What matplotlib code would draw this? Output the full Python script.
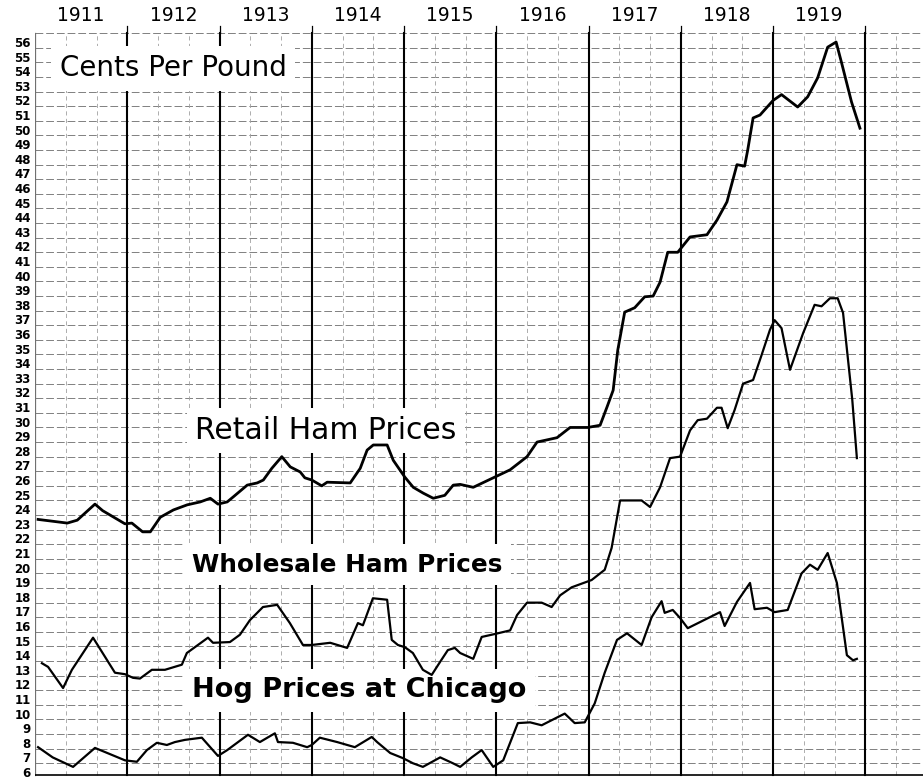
import matplotlib.pyplot as plt

# months counted from Jan 1911, values in cents per pound
retail_month = [0.4, 4.2, 5.5, 7.8, 8.8, 11.7, 12.6, 14.0, 15.0, 16.3, 18.0, 19.8, 21.5, 22.8,
                23.8, 25.0, 25.8, 27.6, 28.9, 29.7, 30.8, 32.1, 33.2, 34.5, 35.1, 36.0, 37.3,
                38.0, 41.0, 42.3, 43.2, 44.0, 45.8, 46.6, 48.1, 49.2, 50.5, 51.8, 53.3, 54.4,
                55.3, 57.0, 59.8, 61.8, 64.0, 65.3, 67.9, 69.6, 71.9, 73.5, 74.4, 75.2, 75.8,
                76.7, 78.0, 79.3, 80.4, 81.3, 82.3, 83.6, 85.2, 87.4, 88.7, 90.0, 91.3, 92.3,
                92.7, 93.4, 94.3, 96.0, 97.1, 99.2, 100.5, 101.8, 103.1, 104.2, 104.9, 106.2, 107.3]
retail_price = [23.3, 23.05, 23.25, 24.35, 23.9, 23.0, 23.05, 22.45, 22.45, 23.45, 23.95, 24.3,
                24.5, 24.75, 24.35, 24.5, 24.85, 25.65, 25.8, 26.0, 26.8, 27.6, 26.9, 26.55,
                26.15, 26.0, 25.6, 25.85, 25.8, 26.8, 28.05, 28.4, 28.4, 27.35, 26.2, 25.5,
                25.1, 24.75, 24.95, 25.65, 25.7, 25.5, 26.2, 26.7, 27.6, 28.6, 28.9, 29.6,
                29.6, 29.75, 31.0, 32.15, 34.9, 37.5, 37.8, 38.55, 38.6, 39.55, 41.6, 41.6,
                42.65, 42.8, 43.8, 45.05, 47.6, 47.5, 48.6, 50.8, 51.0, 52.0, 52.4, 51.55,
                52.25, 53.55, 55.65, 56.0, 54.6, 51.9, 50.1]

wholesale_month = [0.9, 1.7, 3.65, 4.8, 7.55, 10.4, 11.7, 12.75, 13.65, 15.2, 16.9, 19.1, 19.75,
                   22.5, 23.15, 25.35, 26.65, 27.95, 29.65, 31.5, 33.15, 34.85, 36.0, 38.4,
                   40.6, 42.0, 42.65, 43.95, 45.8, 46.4, 47.2, 48.1, 49.15, 50.45, 51.6, 52.7,
                   53.7, 54.6, 55.3, 57.0, 58.1, 59.8, 61.8, 62.7, 64.0, 65.9, 67.2, 68.3, 69.8,
                   72.4, 74.1, 75.0, 76.1, 78.9, 80.0, 81.3, 82.6, 83.9, 85.2, 86.2, 87.4, 88.7,
                   89.3, 90.1, 91.0, 92.1, 93.4, 94.5, 95.6, 96.2, 97.1, 98.2, 99.9, 101.4,
                   102.3, 103.4, 104.4, 105.1, 106.3, 106.9]
wholesale_price = [13.45, 13.2, 11.75, 13.0, 15.2, 12.8, 12.7, 12.45, 12.4, 13.0, 13.0, 13.35,
                   14.15, 15.2, 14.85, 14.9, 15.4, 16.4, 17.3, 17.45, 16.2, 14.7, 14.7, 14.85,
                   14.5, 16.2, 16.05, 17.9, 17.8, 15.05, 14.7, 14.55, 14.15, 13.0, 12.65, 13.55,
                   14.35, 14.5, 14.15, 13.75, 15.25, 15.45, 15.7, 16.75, 17.6, 17.6, 17.3, 18.1,
                   18.65, 19.15, 19.85, 21.35, 24.6, 24.6, 24.15, 25.5, 27.5, 27.6, 29.4, 30.1,
                   30.2, 30.95, 30.95, 29.55, 30.8, 32.6, 32.85, 34.55, 36.3, 36.95, 36.4, 33.55,
                   36.05, 38.0, 37.9, 38.45, 38.45, 37.45, 31.5, 27.5]

hog_month = [0.4, 2.3, 4.95, 7.8, 11.7, 13.25, 14.55, 15.85, 17.15, 18.2, 19.5, 21.7, 23.8, 25.0,
             27.7, 29.25, 31.2, 31.6, 33.55, 35.4, 36.0, 37.05, 39.3, 41.6, 43.8, 44.5, 46.2,
             47.85, 49.15, 50.45, 52.7, 54.35, 55.3, 56.8, 58.1, 59.6, 60.9, 62.8, 64.4, 65.9,
             68.9, 70.2, 71.5, 72.8, 74.1, 75.7, 77.0, 78.9, 80.2, 81.5, 81.9, 82.95, 83.9,
             84.9, 89.1, 89.7, 91.3, 93.0, 93.6, 95.2, 96.2, 97.9, 99.7, 100.8, 101.8, 103.1,
             104.3, 105.6, 106.4, 106.9]
hog_price = [7.7, 7.0, 6.35, 7.65, 6.8, 6.7, 7.5, 8.0, 7.85, 8.05, 8.2, 8.35, 7.1, 7.5, 8.55,
             8.05, 8.65, 8.05, 8.0, 7.7, 7.85, 8.35, 8.05, 7.7, 8.4, 8.05, 7.3, 6.95, 6.6, 6.35,
             7.0, 6.6, 6.35, 7.0, 7.5, 6.35, 6.8, 9.35, 9.4, 9.2, 10.0, 9.35, 9.4, 10.7, 12.8,
             15.05, 15.5, 14.7, 16.6, 17.7, 16.9, 17.1, 16.55, 15.85, 16.95, 16.0, 17.65, 18.95,
             17.15, 17.25, 16.95, 17.1, 19.6, 20.2, 19.85, 21.0, 18.95, 14.0, 13.65, 13.75]

years = ['1911', '1912', '1913', '1914', '1915', '1916', '1917', '1918', '1919']
cents = list(range(6, 57))

fig = plt.figure(figsize=(9.23, 7.79), dpi=100)
ax = fig.add_axes([35 / 923, 0, 1 - 35 / 923, 1])
ax.set_xlim(0, 115.5)
ax.set_ylim(5.52, 58.88)
for s in ax.spines.values():
    s.set_visible(False)

bottom, top = 5.8, 56.6

# light ruling: one line per cent, one every four months
for c in cents:
    ax.plot([0, 115.5], [c + 0.6, c + 0.6], color='#808080', lw=0.7, ls=(0, (8, 3)), zorder=1)
for m in range(4, 116, 4):
    if m % 12:
        ax.plot([m, m], [bottom, top], color='#a0a0a0', lw=0.6, ls=(0, (5, 4)), zorder=1)
ax.plot([0, 0], [bottom, top], color='#707070', lw=0.9, zorder=1)
ax.plot([0, 115.5], [bottom, bottom], color='black', lw=1.2, zorder=2)

# heavy year lines
for k in range(1, 10):
    ax.plot([12 * k, 12 * k], [bottom, top], color='black', lw=1.5, zorder=2)
    ax.plot([12 * k, 12 * k], [top, top + 0.5], color='black', lw=0.9, zorder=2)

for i, y in enumerate(years):
    ax.text(12 * i + 6, 57.8, y, ha='center', va='center', fontsize=13.5)

ax.plot(retail_month, retail_price, color='black', lw=2.0, zorder=4)
ax.plot(wholesale_month, wholesale_price, color='black', lw=1.6, zorder=4)
ax.plot(hog_month, hog_price, color='black', lw=1.6, zorder=4)

ax.set_yticks(cents)
ax.set_yticklabels([str(c) for c in cents], fontsize=8.5, fontweight='bold')
ax.tick_params(axis='y', length=0, pad=3)
ax.set_xticks([])

box = dict(facecolor='white', edgecolor='none', pad=6)
ax.text(3.2, 54.2, 'Cents Per Pound', fontsize=20, va='center', ha='left', bbox=box, zorder=3)
ax.text(20.8, 29.4, 'Retail Ham Prices', fontsize=21.5, va='center', ha='left', bbox=box, zorder=3)
ax.text(20.4, 20.2, 'Wholesale Ham Prices', fontsize=17.8, fontweight='bold', va='center',
        ha='left', bbox=box, zorder=3)
ax.text(20.4, 11.6, 'Hog Prices at Chicago', fontsize=19.5, fontweight='bold', va='center',
        ha='left', bbox=box, zorder=3)

plt.savefig('out.png', dpi=100)
